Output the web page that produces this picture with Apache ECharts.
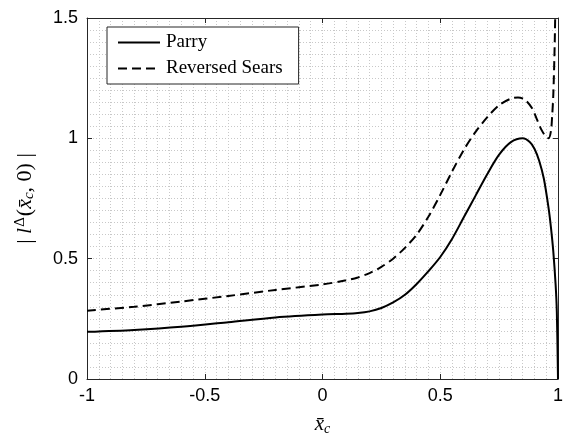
<!DOCTYPE html>
<html><head><meta charset="utf-8">
<script src="https://cdn.jsdelivr.net/npm/echarts@6/dist/echarts.min.js"></script>
<style>html,body{margin:0;padding:0;background:#fff}#c{width:564px;height:435px}</style>
</head><body><div id="c"></div>
<script>
const parryX = [-1,-0.8,-0.6,-0.4,-0.2,0,0.1,0.15,0.2,0.25,0.3,0.35,0.4,0.45,0.5,0.55,0.6,0.65,0.7,0.75,0.8,0.85,0.88,0.9,0.92,0.94,0.96,0.97,0.98,0.99,0.995,1.0];
const parryY = [0.196,0.204,0.217,0.236,0.256,0.268,0.271,0.274,0.281,0.295,0.318,0.35,0.395,0.448,0.507,0.582,0.672,0.762,0.852,0.932,0.984,1.0,0.985,0.957,0.907,0.832,0.71,0.63,0.53,0.39,0.28,0.0];
const searsX = [-1,-0.8,-0.6,-0.4,-0.2,0,0.1,0.15,0.2,0.25,0.3,0.35,0.4,0.45,0.5,0.55,0.6,0.65,0.7,0.75,0.8,0.83,0.86,0.89,0.91,0.93,0.95,0.96,0.97,0.975,0.98,0.985,0.988,0.992];
const searsY = [0.284,0.3,0.322,0.345,0.37,0.393,0.41,0.422,0.44,0.466,0.5,0.545,0.6,0.675,0.765,0.862,0.952,1.027,1.088,1.138,1.165,1.17,1.16,1.125,1.08,1.035,1.005,1.0,1.03,1.09,1.18,1.35,1.5,1.8];
const seriesNames = ['Parry','Reversed Sears'];
const xTicks = [-1,-0.5,0,0.5,1];
const yTicks = [0,0.5,1,1.5];

const chart = echarts.init(document.getElementById('c'));
const axisColor = '#262626';
const gridLine = {show:true, lineStyle:{color:'#c8c8c8', type:[1,2], width:1}};
const sans = 'Liberation Sans';
const serif = 'Liberation Serif';
function lbl(v){ return String(v); }
chart.setOption({
  animation:false,
  grid:{left:87,right:6,top:18,bottom:56,containLabel:false,outerBoundsMode:'none'},
  legend:{
    left:107, top:27, orient:'vertical',
    backgroundColor:'#fff', borderColor:axisColor, borderWidth:1,
    padding:[6,16,6,10], itemGap:7, itemWidth:42, itemHeight:18,
    itemStyle:{opacity:0},
    textStyle:{fontFamily:serif, fontSize:19, color:'#000', padding:[0,0,0,1]},
    data:seriesNames
  },
  xAxis:[{
    type:'value', min:-1, max:1, interval:0.5,
    axisLine:{show:true,onZero:false,lineStyle:{color:axisColor,width:1}},
    axisTick:{show:true,inside:true,length:5,lineStyle:{color:axisColor}},
    axisLabel:{fontFamily:sans,fontSize:18,color:'#000',margin:8,formatter:lbl},
    splitLine:gridLine,
    minorTick:{show:false,splitNumber:10},
    minorSplitLine:gridLine,
    name:'{x|x̄}{s|c}', nameLocation:'middle', nameGap:34,
    nameTextStyle:{rich:{x:{fontFamily:serif,fontStyle:'italic',fontSize:21,color:'#000'},s:{fontFamily:serif,fontStyle:'italic',fontSize:14,color:'#000',verticalAlign:'bottom',padding:[9,0,0,0]}}}
  },{
    type:'value', min:-1, max:1, interval:0.5, position:'top',
    axisLine:{show:true,onZero:false,lineStyle:{color:axisColor,width:1}},
    axisTick:{show:true,inside:true,length:5,lineStyle:{color:axisColor}},
    axisLabel:{show:false}, splitLine:{show:false}
  }],
  yAxis:[{
    type:'value', min:0, max:1.5, interval:0.5,
    axisLine:{show:true,onZero:false,lineStyle:{color:axisColor,width:1}},
    axisTick:{show:true,inside:true,length:5,lineStyle:{color:axisColor}},
    axisLabel:{fontFamily:sans,fontSize:18,color:'#000',margin:9,formatter:lbl},
    splitLine:gridLine,
    minorTick:{show:false,splitNumber:10},
    minorSplitLine:gridLine,
    name:'{n|| }{l|l}{d|Δ}{n|(}{l|x̄}{c|c}{n|, 0) |}', nameLocation:'middle', nameGap:50, nameRotate:90,
    nameTextStyle:{rich:{
      n:{fontFamily:serif,fontSize:22,color:'#000'},
      l:{fontFamily:serif,fontStyle:'italic',fontSize:22,color:'#000'},
      d:{fontFamily:serif,fontSize:15,color:'#000',verticalAlign:'top',padding:[0,1,9,1]},
      c:{fontFamily:serif,fontStyle:'italic',fontSize:15,color:'#000',verticalAlign:'bottom',padding:[9,0,0,0]}
    }}
  },{
    type:'value', min:0, max:1.5, interval:0.5, position:'right',
    axisLine:{show:true,onZero:false,lineStyle:{color:axisColor,width:1}},
    axisTick:{show:true,inside:true,length:5,lineStyle:{color:axisColor}},
    axisLabel:{show:false}, splitLine:{show:false}
  }],
  series:[{
    name:seriesNames[0], type:'line', smooth:0.3, showSymbol:false, symbol:'none',
    data:parryX.map((x,i)=>[x,parryY[i]]),
    lineStyle:{color:'#000',width:2}, itemStyle:{color:'rgba(0,0,0,0)'}, clip:true, z:3
  },{
    name:seriesNames[1], type:'line', smooth:0.3, showSymbol:false, symbol:'none',
    data:searsX.map((x,i)=>[x,searsY[i]]),
    lineStyle:{color:'#000',width:2,type:[9,5]}, itemStyle:{color:'rgba(0,0,0,0)'}, clip:true, z:3
  }]
});
</script></body></html>
